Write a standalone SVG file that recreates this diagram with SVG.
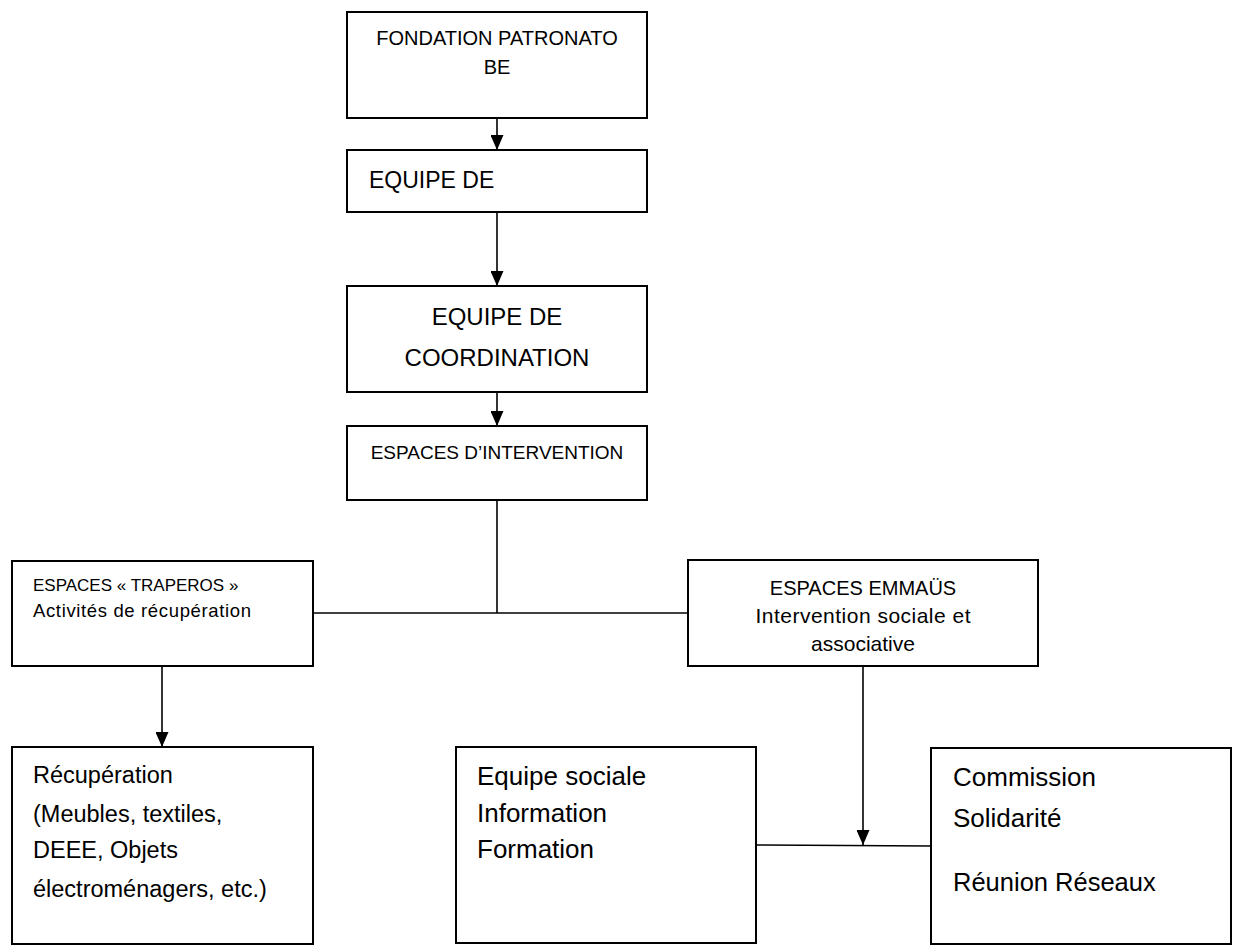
<svg xmlns="http://www.w3.org/2000/svg" width="1236" height="946" viewBox="0 0 1236 946">
<style>
.box{fill:#fff;stroke:#000;stroke-width:2}
.t{font-family:"Liberation Sans",Arial,sans-serif;fill:#000}
.c{text-anchor:middle}
.ln{stroke:#000;stroke-width:1.6;fill:none}
</style>
<defs>
<marker id="arr" viewBox="0 0 15 13" refX="15" refY="6.5" markerWidth="15" markerHeight="13" orient="auto" markerUnits="userSpaceOnUse">
<path d="M0,0 L15,6.5 L0,13 Z" fill="#000"/>
</marker>
</defs>
<rect width="1236" height="946" fill="#fff"/>
<g id="connectors">
<line class="ln" x1="497" y1="118" x2="497" y2="150" marker-end="url(#arr)"/>
<line class="ln" x1="497" y1="212" x2="497" y2="286" marker-end="url(#arr)"/>
<line class="ln" x1="497" y1="392" x2="497" y2="426" marker-end="url(#arr)"/>
<line class="ln" x1="497" y1="500" x2="497" y2="613"/>
<line class="ln" x1="313" y1="613" x2="688" y2="613"/>
<line class="ln" x1="162" y1="666" x2="162" y2="747" marker-end="url(#arr)"/>
<line class="ln" x1="863" y1="666" x2="863" y2="845" marker-end="url(#arr)"/>
<line class="ln" x1="756" y1="845" x2="931" y2="846"/>
</g>
<g id="fondation">
<rect class="box" x="347" y="12" width="300" height="106"/>
<text class="t c" x="497" y="45" font-size="20">FONDATION PATRONATO</text>
<text class="t c" x="497" y="74" font-size="20">BE</text>
</g>
<g id="equipe-de">
<rect class="box" x="347" y="150" width="300" height="62"/>
<text class="t" x="369" y="188" font-size="23">EQUIPE DE</text>
</g>
<g id="coordination">
<rect class="box" x="347" y="286" width="300" height="106"/>
<text class="t c" x="497" y="325" font-size="24">EQUIPE DE</text>
<text class="t c" x="497" y="366" font-size="24">COORDINATION</text>
</g>
<g id="espaces-intervention">
<rect class="box" x="347" y="426" width="300" height="74"/>
<text class="t c" x="497" y="459" font-size="19">ESPACES D’INTERVENTION</text>
</g>
<g id="traperos">
<rect class="box" x="12" y="561" width="301" height="105"/>
<text class="t" x="33" y="591" font-size="17">ESPACES « TRAPEROS »</text>
<text class="t" x="33" y="617" font-size="18.5" textLength="218" lengthAdjust="spacing">Activités de récupération</text>
</g>
<g id="emmaus">
<rect class="box" x="688" y="560" width="350" height="106"/>
<text class="t c" x="863" y="595" font-size="20">ESPACES EMMAÜS</text>
<text class="t c" x="863" y="623" font-size="21" textLength="215" lengthAdjust="spacing">Intervention sociale et</text>
<text class="t c" x="863" y="651" font-size="21">associative</text>
</g>
<g id="recuperation">
<rect class="box" x="12" y="747" width="301" height="197"/>
<text class="t" x="33" y="783" font-size="23.5">Récupération</text>
<text class="t" x="33" y="822" font-size="23.5">(Meubles, textiles,</text>
<text class="t" x="33" y="858" font-size="23.5">DEEE, Objets</text>
<text class="t" x="33" y="897" font-size="23.5">électroménagers, etc.)</text>
</g>
<g id="equipe-sociale">
<rect class="box" x="456" y="747" width="300" height="196"/>
<text class="t" x="477" y="785" font-size="26">Equipe sociale</text>
<text class="t" x="477" y="822" font-size="26">Information</text>
<text class="t" x="477" y="858" font-size="26">Formation</text>
</g>
<g id="commission">
<rect class="box" x="931" y="748" width="300" height="196"/>
<text class="t" x="953" y="786" font-size="26">Commission</text>
<text class="t" x="953" y="827" font-size="26">Solidarité</text>
<text class="t" x="953" y="891" font-size="25.5">Réunion Réseaux</text>
</g>
</svg>
